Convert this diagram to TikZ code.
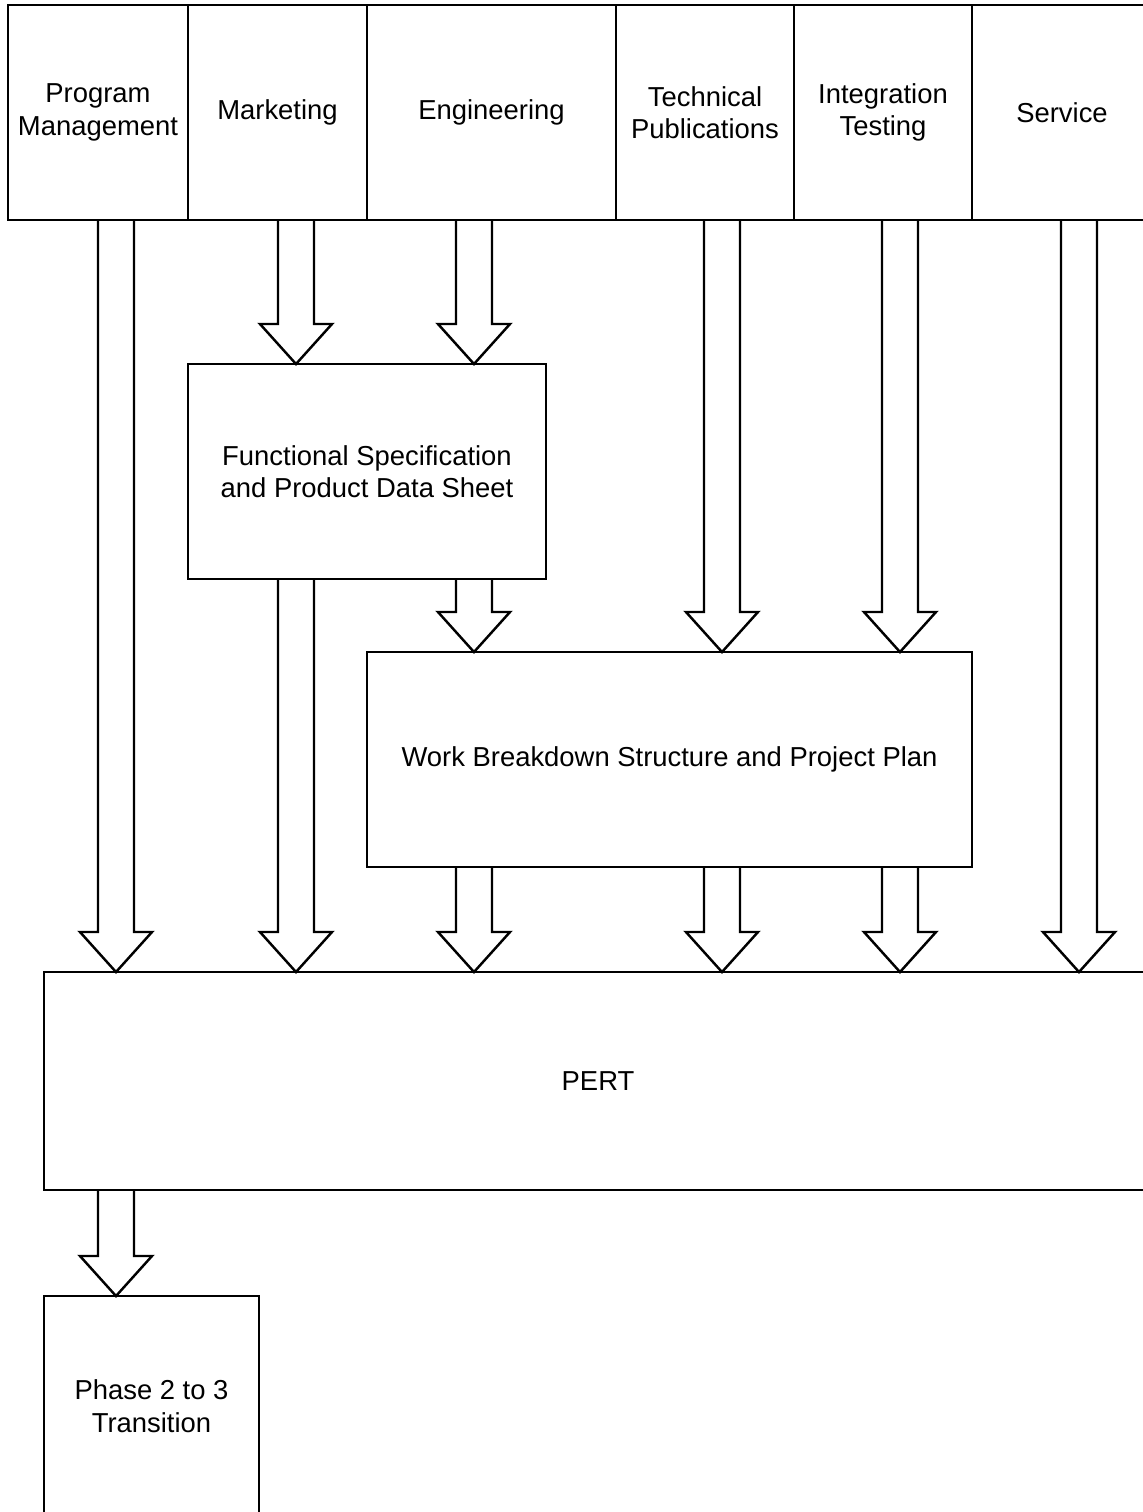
\documentclass[tikz,border=0pt]{standalone}
\usepackage{fontspec}
\setmainfont{Liberation Sans}
\usetikzlibrary{positioning,calc}
\newcommand{\fatarrow}[3]{%
  \draw[fat] let \p1=(#2.south -| #1), \p2=(#3.north -| #1) in
    (\x1-0.36cm,\y1) -- (\x1-0.36cm,\y2+0.8cm) -- (\x1-0.72cm,\y2+0.8cm)
    -- (\x2,\y2) -- (\x1+0.72cm,\y2+0.8cm) -- (\x1+0.36cm,\y2+0.8cm)
    -- (\x1+0.36cm,\y1);}

\begin{document}
\begin{tikzpicture}[
  box/.style={draw, line width=1.4pt, align=center, outer sep=0pt, inner sep=4pt,
    minimum height=4.3cm, font=\fontsize{15.6}{18.5}\selectfont},
  fat/.style={line width=1.4pt, line join=miter}
]
\clip (0,0) rectangle (22.86,-30.24);

\node[box, minimum width=3.6cm, anchor=north west] (pm) at (0.16,-0.1) {Program\\Management};
\node[box, minimum width=3.58cm, right=0pt of pm] (mkt) {Marketing};
\node[box, minimum width=4.98cm, right=0pt of mkt] (eng) {Engineering};
\node[box, minimum width=3.56cm, right=0pt of eng] (tech) {Technical\\Publications};
\node[box, minimum width=3.56cm, right=0pt of tech] (integ) {Integration\\Testing};
\node[box, minimum width=3.6cm, right=0pt of integ] (serv) {Service};

\node[box, minimum width=7.16cm, below=2.88cm of mkt.south west, anchor=north west] (fs) {Functional Specification\\and Product Data Sheet};
\node[box, minimum width=12.1cm, anchor=north west] (wbs) at ($(fs.south -| eng.west)+(0,-1.46)$) {Work Breakdown Structure and Project Plan};
\node[box, minimum width=22.16cm, minimum height=4.36cm, anchor=north west] (pert) at (0.88,-19.44) {PERT};
\node[box, minimum width=4.3cm, minimum height=4.4cm, below=2.12cm of pert.south west, anchor=north west] (phase) {Phase 2 to 3\\Transition};

\coordinate (c1) at (2.32,0);
\coordinate (c2) at (5.92,0);
\coordinate (c3) at (9.48,0);
\coordinate (c4) at (14.44,0);
\coordinate (c5) at (18.0,0);
\coordinate (c6) at (21.58,0);

\fatarrow{c1}{pm}{pert}
\fatarrow{c2}{mkt}{fs}
\fatarrow{c3}{eng}{fs}
\fatarrow{c4}{tech}{wbs}
\fatarrow{c5}{integ}{wbs}
\fatarrow{c6}{serv}{pert}

\fatarrow{c2}{fs}{pert}
\fatarrow{c3}{fs}{wbs}

\fatarrow{c3}{wbs}{pert}
\fatarrow{c4}{wbs}{pert}
\fatarrow{c5}{wbs}{pert}

\fatarrow{c1}{pert}{phase}
\end{tikzpicture}
\end{document}
